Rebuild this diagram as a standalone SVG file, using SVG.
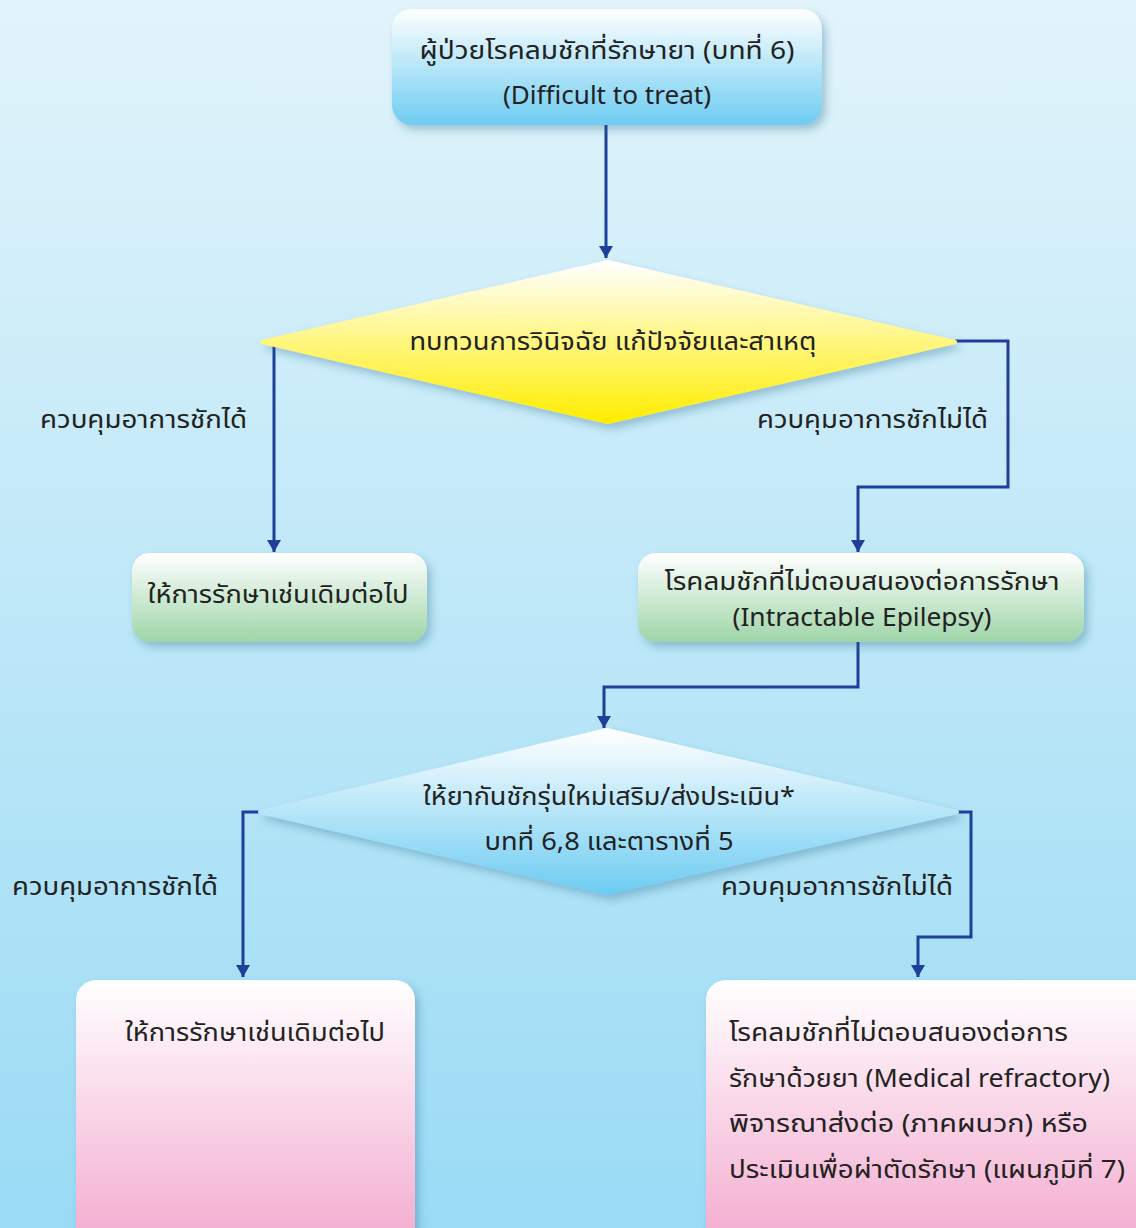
<svg xmlns="http://www.w3.org/2000/svg" width="1136" height="1228" viewBox="0 0 1136 1228">
<style>
.t{font-family:"Noto Sans Thai","Liberation Sans",sans-serif;font-size:25px;fill:#222;}
.c{text-anchor:middle;}
.conn{fill:none;stroke:#1E3F9A;stroke-width:3;}
</style>
<defs>
<linearGradient id="bg" x1="0" y1="0" x2="0" y2="1"><stop offset="0" stop-color="#E2F4FB"/><stop offset="1" stop-color="#9ADBF5"/></linearGradient>
<linearGradient id="gBlue" x1="0" y1="0" x2="0" y2="1"><stop offset="0" stop-color="#FFFFFF"/><stop offset="1" stop-color="#6ECCF2"/></linearGradient>
<linearGradient id="gYel" x1="0" y1="0" x2="0" y2="1"><stop offset="0" stop-color="#FFFFFF"/><stop offset="1" stop-color="#FFED00"/></linearGradient>
<linearGradient id="gGreen" x1="0" y1="0" x2="0" y2="1"><stop offset="0" stop-color="#FFFFFF"/><stop offset="1" stop-color="#9ED5A8"/></linearGradient>
<linearGradient id="gPink" x1="0" y1="0" x2="0" y2="1"><stop offset="0" stop-color="#FFFFFF"/><stop offset="1" stop-color="#F3A9CE"/></linearGradient>
<filter id="sh" x="-10%" y="-10%" width="130%" height="140%"><feDropShadow dx="4" dy="5" stdDeviation="4" flood-color="#2A6A8A" flood-opacity="0.35"/></filter>
<marker id="ah" viewBox="0 0 12 14" refX="12" refY="7" markerWidth="12" markerHeight="14" markerUnits="userSpaceOnUse" orient="auto"><path d="M0,0 L12,7 L0,14 Z" fill="#1E3F9A"/></marker>
</defs>
<rect width="1136" height="1228" fill="url(#bg)"/>
<g id="connectors">
<path class="conn" d="M606,125 V258" marker-end="url(#ah)"/>
<path class="conn" d="M274,342 V552" marker-end="url(#ah)"/>
<path class="conn" d="M955,341 H1008 V487 H858 V552" marker-end="url(#ah)"/>
<path class="conn" d="M858,642 V687 H604 V728" marker-end="url(#ah)"/>
<path class="conn" d="M262,812 H243 V977" marker-end="url(#ah)"/>
<path class="conn" d="M955,812 H971 V937 H918 V977" marker-end="url(#ah)"/>
</g>
<g id="labels">
<text class="t" x="40" y="428" textLength="207" lengthAdjust="spacingAndGlyphs">ควบคุมอาการชักได้</text>
<text class="t" x="757" y="428" textLength="231" lengthAdjust="spacingAndGlyphs">ควบคุมอาการชักไม่ได้</text>
<text class="t" x="12" y="895" textLength="206" lengthAdjust="spacingAndGlyphs">ควบคุมอาการชักได้</text>
<text class="t" x="721" y="895" textLength="232" lengthAdjust="spacingAndGlyphs">ควบคุมอาการชักไม่ได้</text>
</g>
<g id="n1">
<rect x="392" y="9" width="430" height="116" rx="20" fill="url(#gBlue)" filter="url(#sh)"/>
<text class="t c" x="607" y="59" textLength="375" lengthAdjust="spacingAndGlyphs">ผู้ป่วยโรคลมชักที่รักษายา (บทที่ 6)</text>
<text class="t c" x="607" y="104" textLength="208" lengthAdjust="spacingAndGlyphs">(Difficult to treat)</text>
</g>
<g id="n2">
<path d="M608,262 L955,342 L608,422 L262,342 Z" fill="url(#gYel)" stroke="url(#gYel)" stroke-width="4" stroke-linejoin="round" filter="url(#sh)"/>
<text class="t c" x="613" y="350" textLength="407" lengthAdjust="spacingAndGlyphs">ทบทวนการวินิจฉัย แก้ปัจจัยและสาเหตุ</text>
</g>
<g id="n3">
<rect x="132" y="553" width="295" height="89" rx="18" fill="url(#gGreen)" filter="url(#sh)"/>
<text class="t c" x="278" y="603" textLength="261" lengthAdjust="spacingAndGlyphs">ให้การรักษาเช่นเดิมต่อไป</text>
</g>
<g id="n4">
<rect x="638" y="553" width="446" height="89" rx="18" fill="url(#gGreen)" filter="url(#sh)"/>
<text class="t c" x="862" y="590" textLength="395" lengthAdjust="spacingAndGlyphs">โรคลมชักที่ไม่ตอบสนองต่อการรักษา</text>
<text class="t c" x="862" y="626" textLength="259" lengthAdjust="spacingAndGlyphs">(Intractable Epilepsy)</text>
</g>
<g id="n5">
<path d="M607,730 L957,812 L607,893 L260,812 Z" fill="url(#gBlue)" stroke="url(#gBlue)" stroke-width="4" stroke-linejoin="round" filter="url(#sh)"/>
<text class="t c" x="609" y="805" textLength="372" lengthAdjust="spacingAndGlyphs">ให้ยากันชักรุ่นใหม่เสริม/ส่งประเมิน*</text>
<text class="t c" x="609" y="850" textLength="249" lengthAdjust="spacingAndGlyphs">บทที่ 6,8 และตารางที่ 5</text>
</g>
<g id="n6">
<rect x="76" y="980" width="339" height="270" rx="20" fill="url(#gPink)" filter="url(#sh)"/>
<text class="t c" x="255" y="1041" textLength="260" lengthAdjust="spacingAndGlyphs">ให้การรักษาเช่นเดิมต่อไป</text>
</g>
<g id="n7">
<rect x="706" y="980" width="450" height="270" rx="20" fill="url(#gPink)" filter="url(#sh)"/>
<text class="t" x="729" y="1041" textLength="339" lengthAdjust="spacingAndGlyphs">โรคลมชักที่ไม่ตอบสนองต่อการ</text>
<text class="t" x="729" y="1087" textLength="381" lengthAdjust="spacingAndGlyphs">รักษาด้วยยา (Medical refractory)</text>
<text class="t" x="729" y="1132" textLength="359" lengthAdjust="spacingAndGlyphs">พิจารณาส่งต่อ (ภาคผนวก) หรือ</text>
<text class="t" x="729" y="1178" textLength="396" lengthAdjust="spacingAndGlyphs">ประเมินเพื่อผ่าตัดรักษา (แผนภูมิที่ 7)</text>
</g>
</svg>
